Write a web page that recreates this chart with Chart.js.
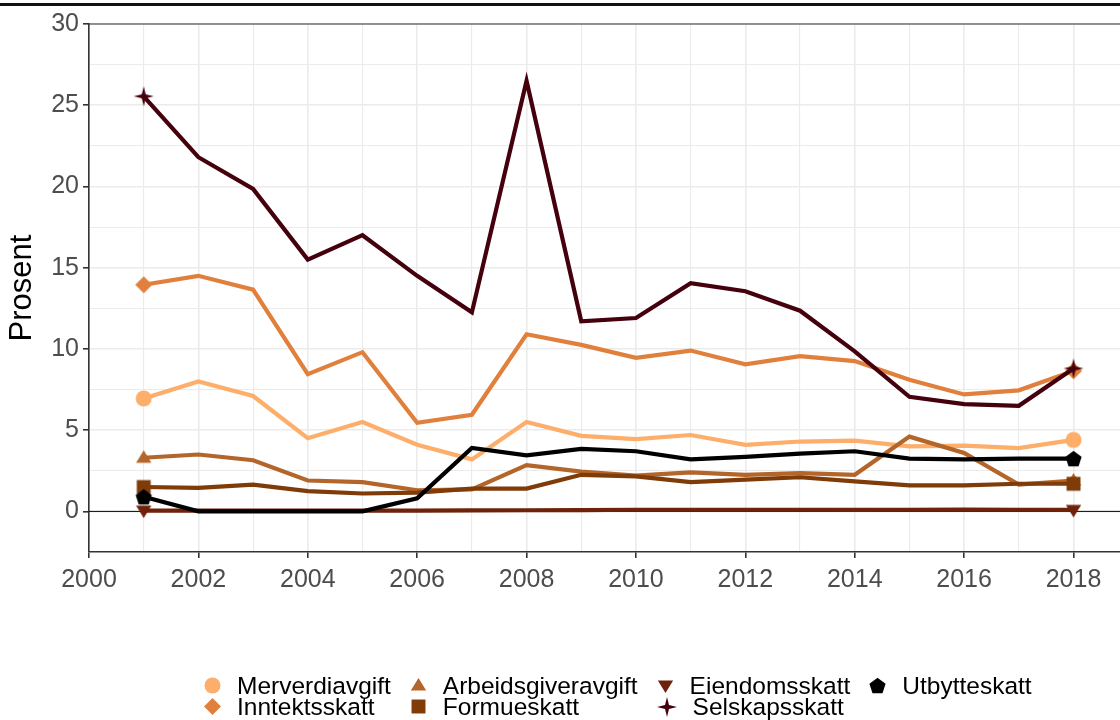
<!DOCTYPE html>
<html lang="no">
<head>
<meta charset="UTF-8">
<title>Skatter i prosent</title>
<script src="https://cdn.jsdelivr.net/npm/chart.js"></script>
<style>
  html, body { margin: 0; background: #fff; overflow: hidden; font-family: "Liberation Sans", Arial, sans-serif; }
  #wrap { position: relative; width: 1120px; height: 720px; overflow: hidden; }
  #myChart { display: block; }
  #legend {
    position: absolute; left: 203px; top: 675px;
    display: grid; grid-template-rows: repeat(2, 21px); grid-auto-flow: column;
    column-gap: 18px;
    font-size: 24.5px; line-height: 21px; color: #000;
  }
  .item { display: flex; align-items: center; white-space: nowrap; }
  .item canvas { margin-right: 15px; }
</style>
</head>
<body>
<div id="wrap">
  <canvas id="myChart" width="1120" height="720"></canvas>
  <div id="legend"></div>
</div>
<script>
// data (prosent)
const years = [2001, 2002, 2003, 2004, 2005, 2006, 2007, 2008, 2009, 2010, 2011, 2012, 2013, 2014, 2015, 2016, 2017, 2018];
const merverdiavgift     = [6.95, 8.0, 7.1, 4.5, 5.5, 4.1, 3.2, 5.5, 4.65, 4.45, 4.7, 4.1, 4.3, 4.35, 4.0, 4.05, 3.9, 4.4];
const inntektsskatt      = [13.95, 14.5, 13.65, 8.45, 9.8, 5.45, 5.95, 10.9, 10.25, 9.45, 9.9, 9.05, 9.55, 9.25, 8.1, 7.2, 7.45, 8.65];
const arbeidsgiveravgift = [3.3, 3.5, 3.15, 1.9, 1.8, 1.3, 1.35, 2.85, 2.45, 2.2, 2.4, 2.25, 2.35, 2.25, 4.6, 3.6, 1.65, 1.9];
const formueskatt        = [1.5, 1.45, 1.65, 1.25, 1.1, 1.15, 1.4, 1.4, 2.25, 2.15, 1.8, 1.95, 2.1, 1.85, 1.6, 1.6, 1.7, 1.7];
const eiendomsskatt      = [0.05, 0.05, 0.05, 0.05, 0.05, 0.05, 0.06, 0.07, 0.08, 0.1, 0.1, 0.1, 0.1, 0.09, 0.1, 0.11, 0.1, 0.09];
const selskapsskatt      = [25.55, 21.8, 19.85, 15.5, 17.0, 14.5, 12.25, 26.5, 11.7, 11.9, 14.05, 13.55, 12.35, 9.85, 7.05, 6.6, 6.5, 8.8];
const utbytteskatt       = [0.9, 0, 0, 0, 0, 0.8, 3.9, 3.45, 3.85, 3.7, 3.2, 3.35, 3.55, 3.7, 3.25, 3.2, 3.25, 3.25];

const labels = ['Merverdiavgift', 'Inntektsskatt', 'Arbeidsgiveravgift', 'Formueskatt', 'Eiendomsskatt', 'Selskapsskatt', 'Utbytteskatt'];
const series = [merverdiavgift, inntektsskatt, arbeidsgiveravgift, formueskatt, eiendomsskatt, selskapsskatt, utbytteskatt];
const colors = ['#fdae6b', '#e0803c', '#b3652a', '#7f3b08', '#6e220a', '#45000d', '#000000'];
const shapes = ['circle', 'diamond', 'triangle', 'square', 'down', 'star', 'pentagon'];

// little canvases used as point style (and in the legend)
function marker(shape, color) {
  const r = shape === 'star' ? 10 : 8.5;
  const s = Math.ceil(r * 2 + 2);
  const c = document.createElement('canvas');
  c.width = s; c.height = s;
  const g = c.getContext('2d');
  g.fillStyle = color;
  g.translate(s / 2, s / 2);
  g.beginPath();
  if (shape === 'circle') {
    g.arc(0, 0, r - 0.5, 0, Math.PI * 2);
  } else if (shape === 'diamond') {
    g.moveTo(0, -r); g.lineTo(r, 0); g.lineTo(0, r); g.lineTo(-r, 0);
  } else if (shape === 'triangle') {
    g.moveTo(0, -r + 1); g.lineTo(r * 0.9, r * 0.6); g.lineTo(-r * 0.9, r * 0.6);
  } else if (shape === 'down') {
    g.moveTo(0, r - 1); g.lineTo(r * 0.9, -r * 0.6); g.lineTo(-r * 0.9, -r * 0.6);
  } else if (shape === 'square') {
    g.rect(-r * 0.82, -r * 0.82, r * 1.64, r * 1.64);
  } else if (shape === 'pentagon') {
    for (let k = 0; k < 5; k++) {
      const a = -Math.PI / 2 + k * 2 * Math.PI / 5;
      g.lineTo(Math.cos(a) * r, Math.sin(a) * r + 0.8);
    }
  } else if (shape === 'star') {
    for (let k = 0; k < 8; k++) {
      const a = -Math.PI / 2 + k * Math.PI / 4;
      const rr = k % 2 === 0 ? r : r * 0.28;
      g.lineTo(Math.cos(a) * rr, Math.sin(a) * rr);
    }
  }
  g.closePath();
  g.fill();
  return c;
}

const last = years.length - 1;
const datasets = labels.map((name, i) => ({
  label: name,
  data: years.map((yr, j) => ({ x: yr, y: series[i][j] })),
  borderColor: colors[i],
  backgroundColor: colors[i],
  borderWidth: 4.2,
  pointStyle: marker(shapes[i], colors[i]),
  pointRadius: ctx => (ctx.dataIndex === 0 || ctx.dataIndex === last) ? 8 : 0,
  tension: 0,
  order: labels.length - i
}));

// legend below the plot, column by column like the original
const legend = document.getElementById('legend');
labels.forEach((name, i) => {
  const item = document.createElement('div');
  item.className = 'item';
  item.appendChild(marker(shapes[i], colors[i]));
  const span = document.createElement('span');
  span.textContent = name;
  item.appendChild(span);
  legend.appendChild(item);
});

// extra lines: zero line, panel top and the rule along the top of the image
const extraLines = {
  id: 'extraLines',
  beforeDatasetsDraw(chart) {
    const { ctx, chartArea, scales } = chart;
    const y0 = scales.y.getPixelForValue(0);
    ctx.save();
    ctx.strokeStyle = '#000';
    ctx.lineWidth = 1;
    ctx.beginPath();
    ctx.moveTo(chartArea.left, y0);
    ctx.lineTo(chartArea.right, y0);
    ctx.stroke();
    ctx.restore();
  },
  afterDraw(chart) {
    const { ctx, chartArea } = chart;
    ctx.save();
    ctx.strokeStyle = '#333';
    ctx.lineWidth = 1.2;
    ctx.beginPath();
    ctx.moveTo(chartArea.left, chartArea.top);
    ctx.lineTo(chartArea.right, chartArea.top);
    ctx.stroke();
    ctx.strokeStyle = '#111';
    ctx.lineWidth = 3;
    ctx.beginPath();
    ctx.moveTo(0, 4.5);
    ctx.lineTo(chart.width, 4.5);
    ctx.stroke();
    ctx.restore();
  }
};

const tickFont = { family: '"Liberation Sans", Arial, sans-serif', size: 25 };

const ctx = document.getElementById('myChart').getContext('2d');
const myChart = new Chart(ctx, {
  type: 'line',
  data: { datasets },
  options: {
    responsive: false,
    animation: false,
    layout: { autoPadding: false, padding: { top: 24, right: 0, left: 0, bottom: 0 } },
    plugins: { legend: { display: false }, tooltip: { enabled: false } },
    scales: {
      x: {
        type: 'linear',
        min: 2000,
        max: 2018.85,
        afterFit: s => { s.height = 168; s.paddingLeft = 0; s.paddingRight = 0; },
        ticks: {
          stepSize: 1,
          includeBounds: false,
          autoSkip: false,
          maxRotation: 0,
          padding: 7,
          color: '#4d4d4d',
          font: tickFont,
          callback: v => (v % 2 === 0 ? String(v) : '')
        },
        grid: {
          color: '#ebebeb',
          lineWidth: c => (c.tick && c.tick.value % 2 === 0 ? 1.6 : 1.1),
          tickLength: 6,
          tickColor: c => (c.tick && c.tick.value % 2 === 0 ? '#333' : 'rgba(0,0,0,0)'),
          tickWidth: 1.6
        },
        border: { color: '#333', width: 1.6 }
      },
      y: {
        min: -2.5,
        max: 30,
        afterFit: s => { s.width = 89; s.paddingTop = 0; s.paddingBottom = 0; },
        ticks: {
          stepSize: 2.5,
          padding: 4,
          color: '#4d4d4d',
          font: tickFont,
          callback: v => (v % 5 === 0 ? String(v) : '')
        },
        grid: {
          color: '#ebebeb',
          lineWidth: c => (c.tick && c.tick.value % 5 === 0 ? 1.6 : 1.1),
          tickLength: 6,
          tickColor: c => (c.tick && c.tick.value % 5 === 0 ? '#333' : 'rgba(0,0,0,0)'),
          tickWidth: 1.6
        },
        border: { color: '#333', width: 1.6 },
        title: {
          display: true,
          text: 'Prosent',
          color: '#000',
          font: { family: '"Liberation Sans", Arial, sans-serif', size: 31 },
          padding: { top: 4, bottom: 0 }
        }
      }
    }
  },
  plugins: [extraLines]
});
</script>
</body>
</html>
